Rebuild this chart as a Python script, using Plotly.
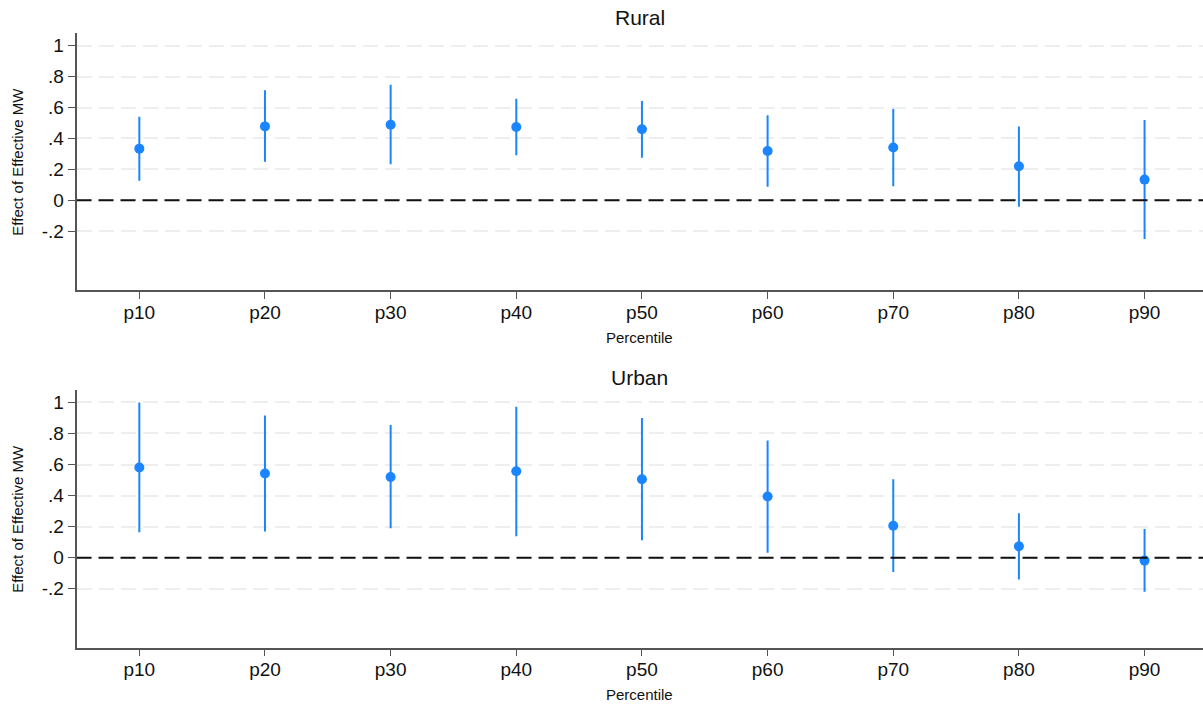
import plotly.graph_objects as go

categories = ["p10", "p20", "p30", "p40", "p50", "p60", "p70", "p80", "p90"]

rural_est = [0.334, 0.478, 0.489, 0.474, 0.459, 0.319, 0.341, 0.220, 0.134]
rural_hi = [0.541, 0.711, 0.748, 0.657, 0.642, 0.550, 0.591, 0.478, 0.519]
rural_lo = [0.127, 0.250, 0.233, 0.291, 0.276, 0.088, 0.091, -0.041, -0.250]

urban_est = [0.581, 0.542, 0.520, 0.557, 0.505, 0.394, 0.206, 0.073, -0.019]
urban_hi = [1.000, 0.916, 0.854, 0.972, 0.899, 0.755, 0.505, 0.286, 0.185]
urban_lo = [0.163, 0.168, 0.189, 0.138, 0.112, 0.032, -0.092, -0.140, -0.219]

ytick_vals = [-0.2, 0, 0.2, 0.4, 0.6, 0.8, 1]
ytick_text = ["-.2", "0", ".2", ".4", ".6", ".8", "1"]
reference_value = 0

BLUE = "#1a85ff"
FONT = "Liberation Sans, Arial, sans-serif"
xpos = list(range(1, len(categories) + 1))
XRANGE = [0.5, 9.465]
YRANGE = [-0.58, 1.08]

W, H = 1203, 704


def px_x(p):
    return p / W


def px_y(p):
    return 1 - p / H


fig = go.Figure()

panels = [
    ("Rural", rural_est, rural_hi, rural_lo, "x", "y"),
    ("Urban", urban_est, urban_hi, urban_lo, "x2", "y2"),
]
for name, est, hi, lo, xa, ya in panels:
    fig.add_trace(go.Scatter(
        x=xpos, y=est, mode="markers", xaxis=xa, yaxis=ya, name=name,
        marker=dict(color=BLUE, size=10),
        error_y=dict(type="data", symmetric=False,
                     array=[h - e for h, e in zip(hi, est)],
                     arrayminus=[e - l for e, l in zip(est, lo)],
                     color=BLUE, thickness=2, width=0),
        showlegend=False, cliponaxis=False,
    ))
    fig.add_trace(go.Scatter(
        x=XRANGE, y=[reference_value, reference_value], mode="lines",
        xaxis=xa, yaxis=ya, hoverinfo="skip", showlegend=False,
        line=dict(color="#111111", width=2, dash="15px,7px"),
    ))

TICK_FONT = dict(size=19, color="#111111", family=FONT)
TITLE_FONT = dict(size=21, color="#111111", family=FONT)
SMALL_FONT = dict(size=15, color="#111111", family=FONT)

XDOM = [px_x(76.5), 1]
xaxis_common = dict(
    range=XRANGE, tickmode="array", tickvals=xpos, ticktext=categories,
    showline=True, linecolor="#555555", linewidth=1.5, ticks="outside",
    ticklen=7, tickcolor="#555555", showgrid=False, zeroline=False,
    tickfont=TICK_FONT, automargin=False, domain=XDOM, ticklabelstandoff=-3,
)
yaxis_common = dict(
    range=YRANGE, tickmode="array", tickvals=ytick_vals, ticktext=ytick_text,
    showline=True, linecolor="#555555", linewidth=1.5, ticks="outside",
    ticklen=7, tickcolor="#555555", showgrid=True, gridcolor="#eeeeee",
    griddash="15px,7px", gridwidth=2, zeroline=False,
    tickfont=TICK_FONT, automargin=False,
)

xc = (XDOM[0] + XDOM[1]) / 2
top_dom = [px_y(290), px_y(33.3)]
bot_dom = [px_y(647.7), px_y(390)]

fig.update_layout(
    width=W, height=H,
    margin=dict(l=0, r=0, t=0, b=0),
    paper_bgcolor="white", plot_bgcolor="white",
    xaxis=dict(**xaxis_common, anchor="y"),
    yaxis=dict(**yaxis_common, domain=top_dom, anchor="x"),
    xaxis2=dict(**xaxis_common, anchor="y2"),
    yaxis2=dict(**yaxis_common, domain=bot_dom, anchor="x2"),
    annotations=[
        dict(text="Rural", x=xc, y=px_y(18), xref="paper", yref="paper",
             showarrow=False, font=TITLE_FONT, yanchor="middle"),
        dict(text="Urban", x=xc, y=px_y(377), xref="paper", yref="paper",
             showarrow=False, font=TITLE_FONT, yanchor="middle"),
        dict(text="Percentile", x=xc, y=px_y(337), xref="paper", yref="paper",
             showarrow=False, font=SMALL_FONT, yanchor="middle"),
        dict(text="Percentile", x=xc, y=px_y(694), xref="paper", yref="paper",
             showarrow=False, font=SMALL_FONT, yanchor="middle"),
        dict(text="Effect of Effective MW", x=px_x(18), y=sum(top_dom) / 2, xref="paper", yref="paper",
             showarrow=False, font=SMALL_FONT, textangle=-90, xanchor="center", yanchor="middle"),
        dict(text="Effect of Effective MW", x=px_x(18), y=sum(bot_dom) / 2, xref="paper", yref="paper",
             showarrow=False, font=SMALL_FONT, textangle=-90, xanchor="center", yanchor="middle"),
    ],
)

fig.write_html(
    "out.html",
    config={"displayModeBar": False},
    post_script="document.body.style.margin='0';document.body.style.overflow='hidden';",
)
